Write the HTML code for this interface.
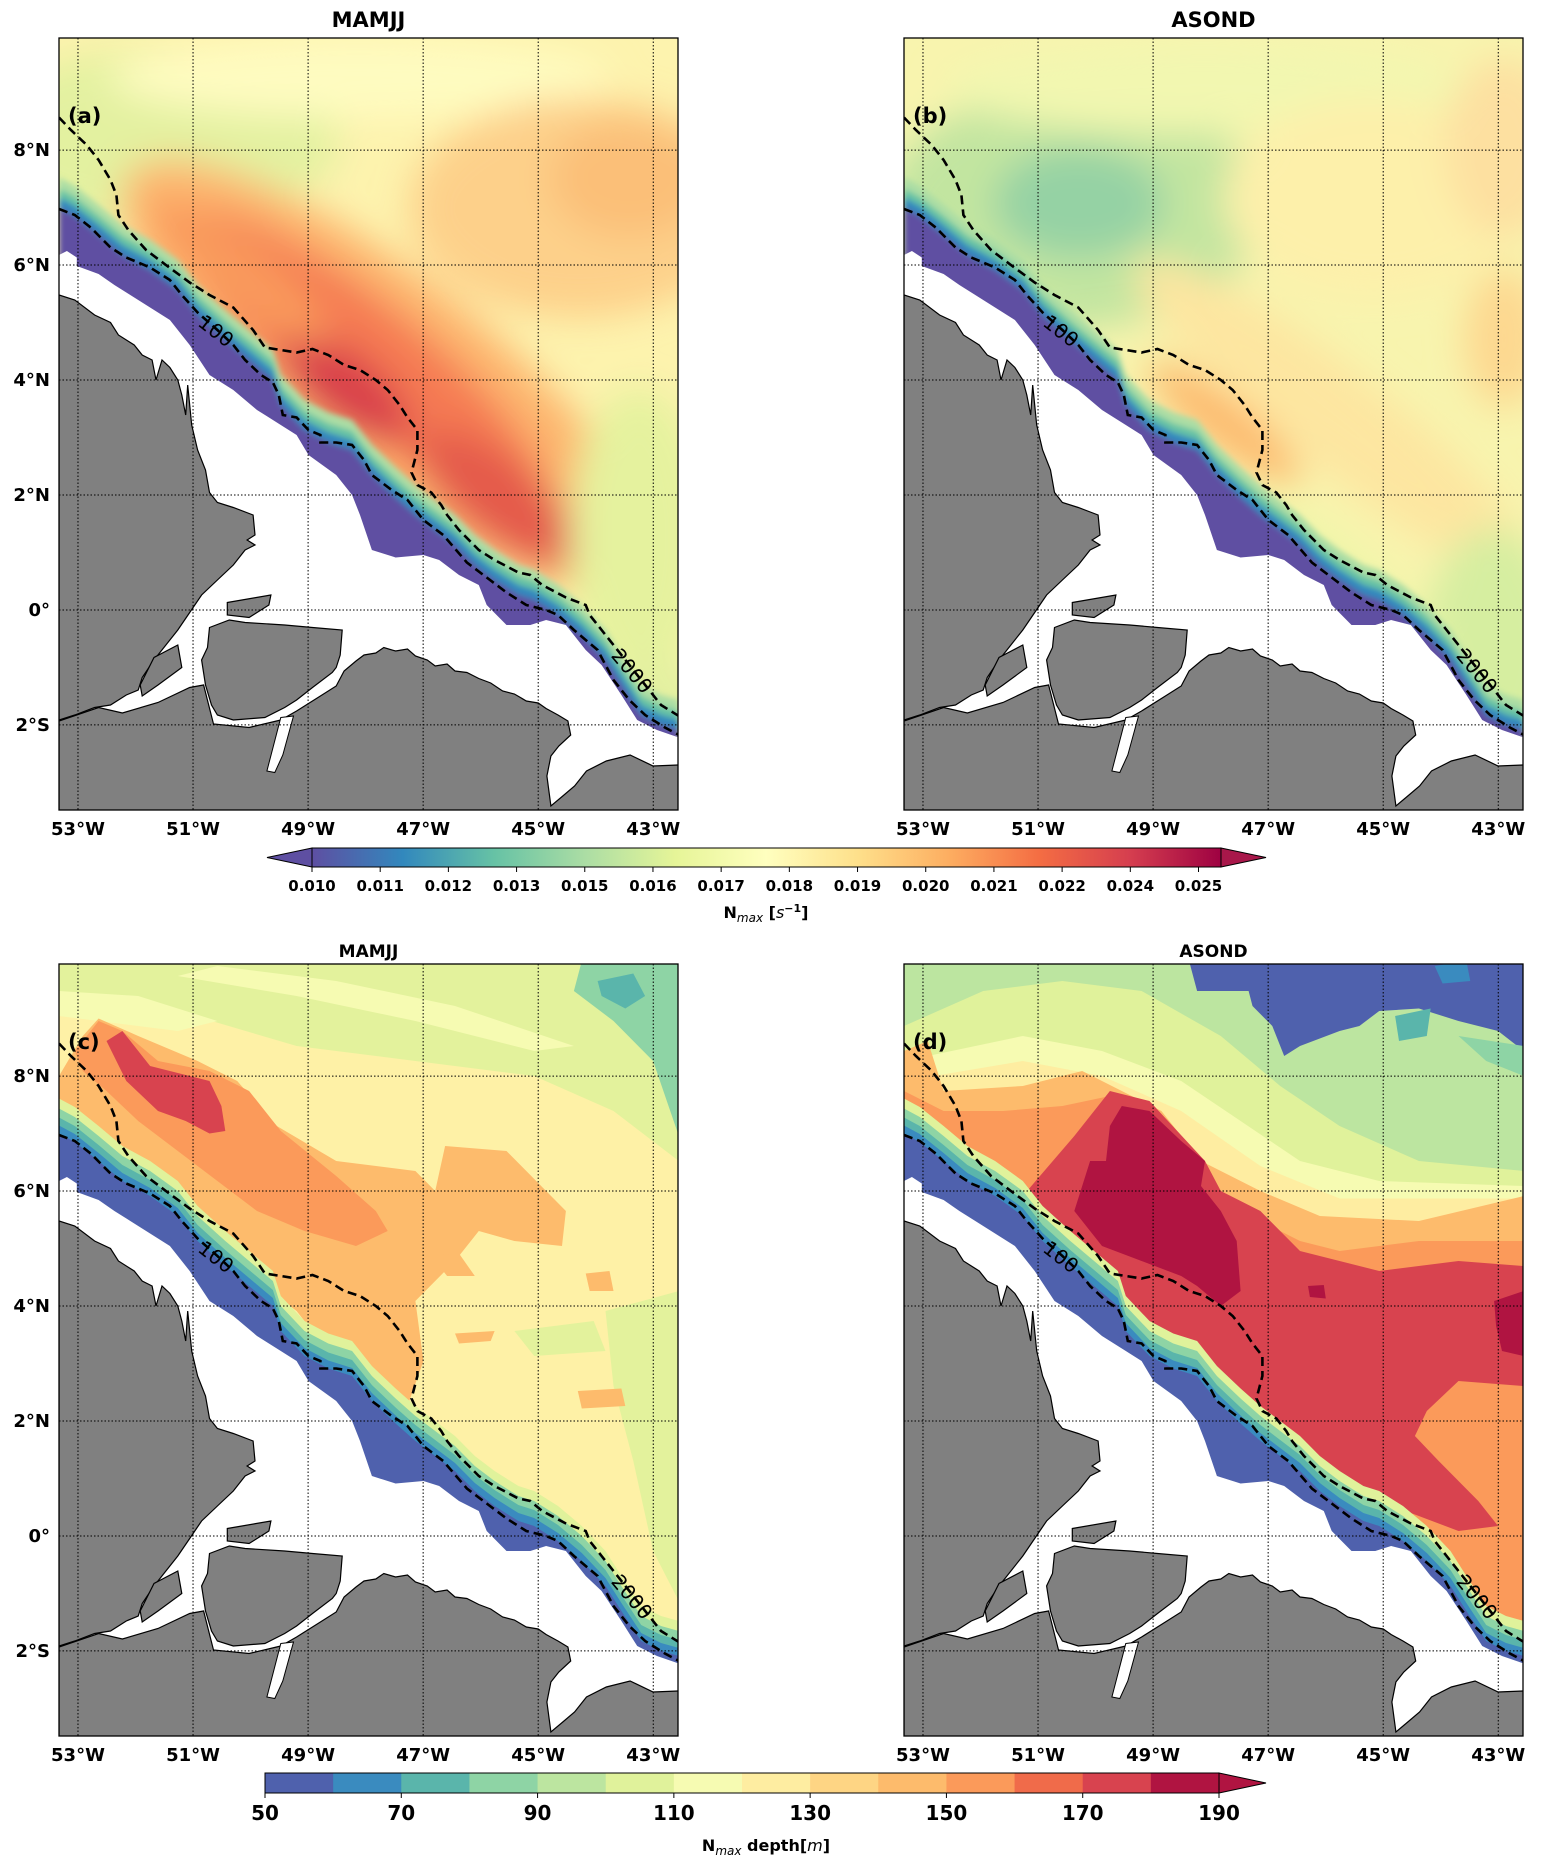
<!DOCTYPE html>
<html><head><meta charset="utf-8">
<style>
html,body{margin:0;padding:0;background:#fff;}
svg{display:block;font-family:"DejaVu Sans","Liberation Sans",sans-serif;}
</style></head>
<body>
<svg id="fig" xmlns="http://www.w3.org/2000/svg" width="1542" height="1867" viewBox="0 0 1542 1867">
<defs>
<filter id="blur" x="-50%" y="-50%" width="200%" height="200%"><feGaussianBlur stdDeviation="18"/></filter>
<filter id="blur2" x="-20%" y="-20%" width="140%" height="140%"><feGaussianBlur stdDeviation="3"/></filter>
<linearGradient id="spec" x1="0" x2="1" y1="0" y2="0">
<stop offset="0" stop-color="#5e4fa2"/><stop offset="0.1" stop-color="#3288bd"/><stop offset="0.2" stop-color="#66c2a5"/><stop offset="0.3" stop-color="#abdda4"/><stop offset="0.4" stop-color="#e6f598"/><stop offset="0.5" stop-color="#ffffbf"/><stop offset="0.6" stop-color="#fee08b"/><stop offset="0.7" stop-color="#fdae61"/><stop offset="0.8" stop-color="#f46d43"/><stop offset="0.9" stop-color="#d53e4f"/><stop offset="1" stop-color="#9e0142"/>
</linearGradient>
<clipPath id="pclip"><rect x="0" y="0" width="619" height="772"/></clipPath>
</defs>
<g id="root"></g>
</svg>
<script>
// ---- data arrays ----
const lonLabels = ["53°W","51°W","49°W","47°W","45°W","43°W"];
const lonValues = [-53,-51,-49,-47,-45,-43];
const latLabels = ["8°N","6°N","4°N","2°N","0°","2°S"];
const latValues = [8,6,4,2,0,-2];
const cb1Labels = ["0.010","0.011","0.012","0.013","0.015","0.016","0.017","0.018","0.019","0.020","0.021","0.022","0.024","0.025"];
const cb2Levels = [50,60,70,80,90,100,110,120,130,140,150,160,170,180,190];
const cb2Labels = [50,70,90,110,130,150,170,190];
const cb2Colors = ["#4f61ad","#3a8bbf","#5ab5ab","#8ed4a5","#bce5a0","#e0f29b","#f6fbb2","#feeda1","#fed584","#fdbb6c","#fb9a5a","#f06b4a","#d8434f","#b01441"];
const titles = ["MAMJJ","ASOND","MAMJJ","ASOND"];
const panelTags = ["(a)","(b)","(c)","(d)"];

const NS="http://www.w3.org/2000/svg";
const root=document.getElementById('root');
const PW=619, PH=772;
const lonMin=-53.33, lonMax=-42.57, latMax=9.95, latMin=-3.48;
function xOfLon(l){return (l-lonMin)/(lonMax-lonMin)*PW;}
function yOfLat(l){return (latMax-l)/(latMax-latMin)*PH;}
function el(tag,attrs,parent){const e=document.createElementNS(NS,tag);for(const k in attrs)e.setAttribute(k,attrs[k]);(parent||root).appendChild(e);return e;}
function T(p){return [p[0]/2.525, p[1]/2-3];}
function pts(a){return a.map(p=>{const q=T(p);return q[0].toFixed(1)+","+q[1].toFixed(1);}).join(" ");}
function pathD(a){return a.map((p,i)=>{const q=T(p);return (i?"L":"M")+q[0].toFixed(1)+" "+q[1].toFixed(1);}).join(" ");}

const dataEdge=[[0,440],[20,432],[45,445],[45,462],[100,478],[140,500],[180,520],[230,545],[280,570],[330,620],[380,680],[440,710],[500,750],[560,780],[600,800],[630,840],[700,880],[740,920],[760,960],[790,1030],[850,1045],[920,1040],[960,1050],[1010,1080],[1060,1100],[1080,1140],[1130,1180],[1190,1180],[1230,1170],[1280,1180],[1330,1230],[1370,1260],[1420,1320],[1460,1370],[1510,1390],[1565,1405],[1565,1600],[0,1600]];
const shelfEdge=[[0,345],[40,362],[100,400],[160,440],[230,470],[300,510],[350,560],[420,610],[480,650],[540,690],[560,740],[620,790],[680,815],[740,830],[790,880],[850,925],[900,960],[950,990],[1000,1020],[1050,1060],[1100,1090],[1160,1120],[1200,1130],[1260,1160],[1320,1200],[1380,1250],[1420,1300],[1470,1360],[1520,1380],[1565,1390]];
const iso100=[[0,348],[40,360],[80,385],[130,425],[170,445],[230,465],[280,490],[310,520],[350,555],[400,590],[440,620],[470,650],[510,680],[540,695],[555,720],[565,760],[600,765],[630,790],[660,800],[660,815],[700,815],[740,820],[770,850],[790,880],[840,910],[880,930],[920,970],[970,1000],[1030,1055],[1080,1085],[1130,1115],[1180,1140],[1230,1150],[1260,1160],[1300,1190],[1360,1230],[1400,1290],[1440,1330],[1480,1360],[1530,1385],[1565,1400]];
const iso2000=[[0,165],[30,190],[70,220],[100,250],[130,290],[145,320],[150,360],[175,390],[220,430],[270,460],[330,495],[380,520],[440,545],[490,590],[520,625],[560,630],[600,635],[640,628],[680,640],[720,660],[760,670],[800,690],[830,710],[860,740],[880,765],[905,790],[905,830],[890,875],[905,900],[940,915],[965,940],[980,960],[1010,990],[1060,1030],[1100,1050],[1160,1075],[1190,1080],[1220,1100],[1280,1125],[1330,1140],[1340,1160],[1370,1190],[1400,1220],[1450,1270],[1500,1320],[1520,1340],[1565,1362]];
const landNW=[[0,520],[40,530],[90,560],[130,575],[150,600],[190,620],[210,640],[235,650],[245,690],[260,650],[280,665],[300,690],[310,720],[320,760],[325,700],[335,780],[350,830],[370,870],[380,915],[400,935],[440,945],[490,960],[495,1000],[475,1010],[495,1020],[470,1030],[440,1060],[400,1090],[360,1120],[330,1155],[300,1190],[270,1220],[240,1250],[210,1285],[200,1310],[170,1320],[130,1340],[90,1345],[40,1360],[0,1370]];
const landMarajo=[[380,1185],[430,1170],[470,1175],[570,1180],[640,1185],[715,1190],[710,1240],[700,1265],[690,1275],[640,1305],[600,1330],[570,1345],[520,1365],[440,1370],[400,1360],[385,1340],[370,1300],[360,1250],[375,1225]];
const landIsle1=[[425,1135],[535,1120],[530,1140],[480,1165],[425,1160]];
const landIsle2=[[205,1300],[240,1245],[300,1220],[310,1265],[250,1300],[210,1322]];
const landSouth=[[0,1372],[100,1345],[160,1356],[250,1335],[330,1305],[365,1300],[390,1378],[480,1385],[560,1370],[600,1352],[660,1322],[700,1302],[720,1272],[750,1252],[770,1240],[800,1236],[820,1225],[850,1232],[880,1228],[900,1242],[930,1250],[950,1262],[980,1258],[1000,1272],[1030,1275],[1060,1287],[1090,1296],[1120,1312],[1150,1318],[1180,1332],[1210,1336],[1230,1347],[1260,1360],[1285,1372],[1292,1400],[1262,1422],[1242,1442],[1232,1482],[1242,1542],[1272,1522],[1302,1502],[1332,1472],[1382,1452],[1442,1440],[1500,1462],[1565,1460],[1565,1600],[0,1600]];
const river1=[[560,1365],[592,1362],[565,1440],[545,1475],[525,1472]];

const panels=[
 {x:59,y:38,kind:'N',id:'a'},{x:904,y:38,kind:'N',id:'b'},
 {x:59,y:964,kind:'D',id:'c'},{x:904,y:964,kind:'D',id:'d'}];

const blobsA=[[100,100,180,90,0,'#e3f1a0'],[300,40,250,40,0,'#fefbc0'],[520,170,170,110,0,'#fdd08a'],[570,140,80,60,0,'#fbbf78'],[330,340,330,100,38,'#fdb56e'],[300,320,230,60,38,'#f57a52'],[285,350,80,35,38,'#d9404c'],[440,462,100,40,38,'#e45a4c'],[180,235,110,30,38,'#f99a5c'],[580,500,70,150,0,'#e5f29e'],[600,700,60,80,0,'#e3f0a0']];
const blobsB=[[170,170,190,120,0,'#c2e5a0'],[175,165,85,55,0,'#95d2a4'],[60,290,100,60,0,'#cde9a0'],[300,50,260,45,0,'#f2f7b0'],[470,160,150,100,0,'#fdf0aa'],[600,110,60,90,0,'#fde0a0'],[430,380,250,50,38,'#fde6a0'],[320,385,95,24,38,'#fdb86c'],[600,300,40,70,0,'#fdd890'],[590,610,70,120,0,'#d6eea0'],[420,560,150,60,38,'#eef6a8']];

const bandsC=[
 ['#e3f29c',[[0,0],[1565,0],[1565,400],[1400,300],[1200,230],[900,200],[600,170],[300,100],[0,60]]],
 ['#f6fbb2',[[300,30],[600,70],[900,120],[1200,180],[1300,170],[1000,90],[700,40],[400,10]]],
 ['#f6fbb2',[[0,60],[200,70],[400,120],[300,140],[100,120],[0,110]]],
 ['#8ed4a5',[[1320,0],[1565,0],[1565,350],[1500,200],[1400,120],[1300,60]]],
 ['#5ab5ab',[[1360,40],[1450,25],[1480,70],[1430,95],[1370,70]]],
 ['#e3f29c',[[1380,700],[1565,660],[1565,1280],[1500,1180],[1450,1000],[1400,850]]],
 ['#e3f29c',[[1150,740],[1350,720],[1380,780],[1200,790]]],
 ['#fdbb6c',[[0,230],[60,150],[100,115],[200,150],[350,200],[450,240],[550,330],[700,400],[900,420],[950,460],[975,370],[1130,380],[1280,500],[1270,570],[1150,560],[1060,540],[1000,600],[900,680],[920,800],[880,890],[830,880],[700,800],[600,700],[500,640],[400,600],[300,530],[200,470],[100,400],[40,330],[0,300]]],
 ['#fdbb6c',[[1330,625],[1390,620],[1400,660],[1340,660]]],
 ['#fdbb6c',[[1310,860],[1420,855],[1430,890],[1320,895]]],
 ['#fdbb6c',[[1000,745],[1100,740],[1090,760],[1010,765]]],
 ['#fdbb6c',[[940,590],[1010,585],[1050,630],[980,630]]],
 ['#fb9a5a',[[40,180],[100,120],[160,140],[250,200],[380,220],[480,260],[560,340],[700,430],[800,500],[830,540],[750,570],[620,540],[500,500],[400,440],[300,380],[200,320],[120,260],[60,220]]],
 ['#d8434f',[[120,160],[160,140],[230,210],[330,230],[380,240],[410,290],[420,340],[380,345],[320,320],[250,300],[170,240]]]];
const bandsD=[
 ['#e0f29b',[[0,130],[200,60],[400,40],[600,60],[800,150],[950,250],[1100,330],[1300,400],[1565,420],[1565,1600],[0,1600]]],
 ['#f6fbb2',[[0,200],[300,150],[500,180],[700,240],[850,320],[1000,400],[1200,440],[1565,450],[1565,1600],[0,1600]]],
 ['#feeda1',[[0,240],[300,200],[500,230],[700,300],[900,410],[1100,475],[1565,475],[1565,1600],[0,1600]]],
 ['#fdbb6c',[[0,180],[60,160],[100,260],[300,250],[450,220],[550,260],[650,300],[750,400],[900,460],[1050,510],[1300,520],[1565,470],[1565,1600],[0,1600]]],
 ['#fb9a5a',[[0,260],[100,300],[250,300],[400,290],[520,270],[600,290],[700,420],[850,500],[1000,560],[1100,580],[1300,560],[1565,560],[1565,1600],[0,1600]]],
 ['#d8434f',[[150,440],[300,470],[430,350],[520,260],[620,280],[760,400],[800,460],[900,500],[1000,580],[1200,620],[1400,600],[1565,610],[1565,850],[1400,840],[1320,900],[1290,950],[1350,1000],[1450,1080],[1500,1130],[1400,1140],[1200,1080],[1100,1050],[950,990],[850,920],[700,820],[600,740],[500,640],[400,580],[300,520]]],
 ['#b01441',[[430,500],[470,400],[510,400],[520,330],[550,290],[620,300],[700,360],[760,400],[750,450],[800,500],[840,560],[850,660],[800,690],[740,650],[700,630],[600,600],[500,570]]],
 ['#b01441',[[1490,680],[1565,660],[1565,790],[1510,780],[1495,730]]],
 ['#b01441',[[1020,650],[1060,648],[1065,675],[1025,672]]],
 ['#4f61ad',[[720,0],[1565,0],[1565,180],[1500,140],[1400,120],[1300,95],[1200,100],[1150,130],[1100,140],[1000,170],[960,190],[930,130],[880,90],[870,60],[740,60]]],
 ['#3a8bbf',[[1340,10],[1420,0],[1430,40],[1360,45]]],
 ['#5ab5ab',[[1240,110],[1330,95],[1320,150],[1250,160]]],
 ['#8ed4a5',[[1400,150],[1565,170],[1565,230],[1470,200]]]];

function drawPanel(P,idx){
  const g=el('g',{transform:`translate(${P.x},${P.y})`});
  
  
  const f=el('g',{'clip-path':'url(#pclip)'},g);
  if(P.kind==='N'){
    const bl=P.id==='a'?blobsA:blobsB;
    const r=el('rect',{x:0,y:0,width:PW,height:PH,fill:P.id==='a'?'#fdf3ae':'#f8f4ae'},f);
    
    
    const bg=el('g',{filter:'url(#blur)'},f);
    bl.forEach(b=>{const e=el('ellipse',{cx:b[0],cy:b[1],rx:b[2],ry:b[3],fill:b[5],transform:`rotate(${b[4]} ${b[0]} ${b[1]})`},bg);
      
      });
    const sh=el('g',{filter:'url(#blur2)'},f);
    const layers=[[-60,'#abdda4'],[-38,'#66c2a5'],[-20,'#3288bd'],[0,'#5e4fa2']];
    layers.forEach(L=>{const pp=shelfEdge.map(p=>[p[0],p[1]+L[0]]).concat([[1565,1600],[0,1600]]);
      const e=el('polygon',{points:pts(pp),fill:L[1]},sh);
      
      });
  } else {
    const bands=P.id==='c'?bandsC:bandsD;
    const r=el('rect',{x:0,y:0,width:PW,height:PH,fill:P.id==='c'?'#fef1a6':'#bce5a0'},f);
    
    
    bands.forEach(b=>{const e=el('polygon',{points:pts(b[1]),fill:b[0]},f);
      
      });
    const layers=[[-70,'#e0f29b'],[-50,'#8ed4a5'],[-32,'#5ab5ab'],[-16,'#3a8bbf'],[0,'#4f61ad']];
    layers.forEach(L=>{const pp=shelfEdge.map(p=>[p[0],p[1]+L[0]]).concat([[1565,1600],[0,1600]]);
      const e=el('polygon',{points:pts(pp),fill:L[1]},f);
      
      });
  }
  const w=el('polygon',{points:pts(dataEdge),fill:'#ffffff'},f);
  
  
  [landNW,landMarajo,landIsle1,landIsle2,landSouth].forEach(L=>{
    const e=el('polygon',{points:pts(L),fill:'#808080',stroke:'#000','stroke-width':1.2},f);
    
    });
  const rv=el('polygon',{points:pts(river1),fill:'#fff',stroke:'#000','stroke-width':1},f);
  
  
  lonValues.forEach(v=>{const x=xOfLon(v);const e=el('line',{x1:x,x2:x,y1:0,y2:PH,stroke:'#000','stroke-width':1,'stroke-dasharray':'1.5,2'},f);
    
    });
  latValues.forEach(v=>{const y=yOfLat(v);const e=el('line',{x1:0,x2:PW,y1:y,y2:y,stroke:'#000','stroke-width':1,'stroke-dasharray':'1.5,2'},f);
    
    });
  [iso100,iso2000].forEach((L,i)=>{const e=el('path',{d:pathD(L),fill:'none',stroke:'#000','stroke-width':2.6,'stroke-dasharray':'9,5'},f);
    
    });
  const t1=el('text',{x:157,y:300,'font-size':20,transform:'rotate(38 157 293)','text-anchor':'middle',fill:'#000'},f);
  t1.textContent='100';
  
  
  const t2=el('text',{x:573,y:640,'font-size':20,transform:'rotate(50 573 633)','text-anchor':'middle',fill:'#000'},f);
  t2.textContent='2000';
  
  
  const tag=el('text',{x:9,y:85,'font-size':21,'font-weight':'bold',fill:'#000'},g);
  tag.textContent=panelTags[idx];
  
  
  const fr=el('rect',{x:0,y:0,width:PW,height:PH,fill:'none',stroke:'#000','stroke-width':1.3},g);
  
  
  const tt=el('text',{x:PW/2,y:idx<2?-11:-7,'font-size':idx<2?21:17,'font-weight':'bold','text-anchor':'middle'},g);
  tt.textContent=titles[idx];
  
  
  lonValues.forEach((v,i)=>{const e=el('text',{x:xOfLon(v),y:PH+25,'font-size':18,'font-weight':'bold','text-anchor':'middle'},g);
    e.textContent=lonLabels[i];
    
    });
  if(P.id==='a'||P.id==='c'){
    latValues.forEach((v,i)=>{const e=el('text',{x:-9,y:yOfLat(v)+6,'font-size':18,'font-weight':'bold','text-anchor':'end'},g);
      e.textContent=latLabels[i];
      
      });
  }
}
panels.forEach(drawPanel);

(function(){
  const g=el('g',{});
  
  
  const x0=312,x1=1221,y0=848,y1=867;
  const tl=el('polygon',{points:`${x0},${y0} 267,${(y0+y1)/2} ${x0},${y1}`,fill:'#5e4fa2',stroke:'#000','stroke-width':1},g);
  
  
  const tr=el('polygon',{points:`${x1},${y0} 1266,${(y0+y1)/2} ${x1},${y1}`,fill:'#a8174a',stroke:'#000','stroke-width':1},g);
  
  
  const r=el('rect',{x:x0,y:y0,width:x1-x0,height:y1-y0,fill:'url(#spec)',stroke:'#000','stroke-width':1},g);
  
  
  const step=(1198.5-x0)/(cb1Labels.length-1);
  cb1Labels.forEach((s,i)=>{const x=x0+i*step;
    const t=el('line',{x1:x,x2:x,y1:y1,y2:y1+5,stroke:'#000'},g);
    
    
    const e=el('text',{x:x,y:891,'font-size':15,'font-weight':'bold','text-anchor':'middle'},g);
    e.textContent=s;
    
    });
  const lab=el('text',{x:766,y:918,'font-size':16,'font-weight':'bold','text-anchor':'middle'},g);
  lab.innerHTML='N<tspan font-style="italic" font-weight="normal" font-size="12" dy="4">max</tspan><tspan dy="-4"> [</tspan><tspan font-style="italic" font-weight="normal">s</tspan><tspan font-size="11" dy="-6">−1</tspan><tspan dy="6">]</tspan>';
  
  
})();

(function(){
  const g=el('g',{});
  
  
  const x0=265,x1=1219,y0=1773,y1=1793;
  const lo=cb2Levels[0],hi=cb2Levels[cb2Levels.length-1];
  const X=v=>x0+(v-lo)/(hi-lo)*(x1-x0);
  cb2Colors.forEach((c,i)=>{const e=el('rect',{x:X(cb2Levels[i]),y:y0,width:X(cb2Levels[i+1])-X(cb2Levels[i])+0.5,height:y1-y0,fill:c},g);
    
    });
  const tr=el('polygon',{points:`${x1},${y0} 1266,${(y0+y1)/2} ${x1},${y1}`,fill:cb2Colors[cb2Colors.length-1],stroke:'#000','stroke-width':1},g);
  
  
  const r=el('rect',{x:x0,y:y0,width:x1-x0,height:y1-y0,fill:'none',stroke:'#000','stroke-width':1},g);
  
  
  cb2Labels.forEach(v=>{const x=X(v);
    const t=el('line',{x1:x,x2:x,y1:y1,y2:y1+5,stroke:'#000'},g);
    
    
    const e=el('text',{x:x,y:1820,'font-size':20,'font-weight':'bold','text-anchor':'middle'},g);
    e.textContent=String(v);
    
    });
  const lab=el('text',{x:766,y:1851,'font-size':16,'font-weight':'bold','text-anchor':'middle'},g);
  lab.innerHTML='N<tspan font-style="italic" font-weight="normal" font-size="12" dy="4">max</tspan><tspan dy="-4"> depth[</tspan><tspan font-style="italic" font-weight="normal">m</tspan><tspan>]</tspan>';
  
  
})();
</script>
</body></html>
